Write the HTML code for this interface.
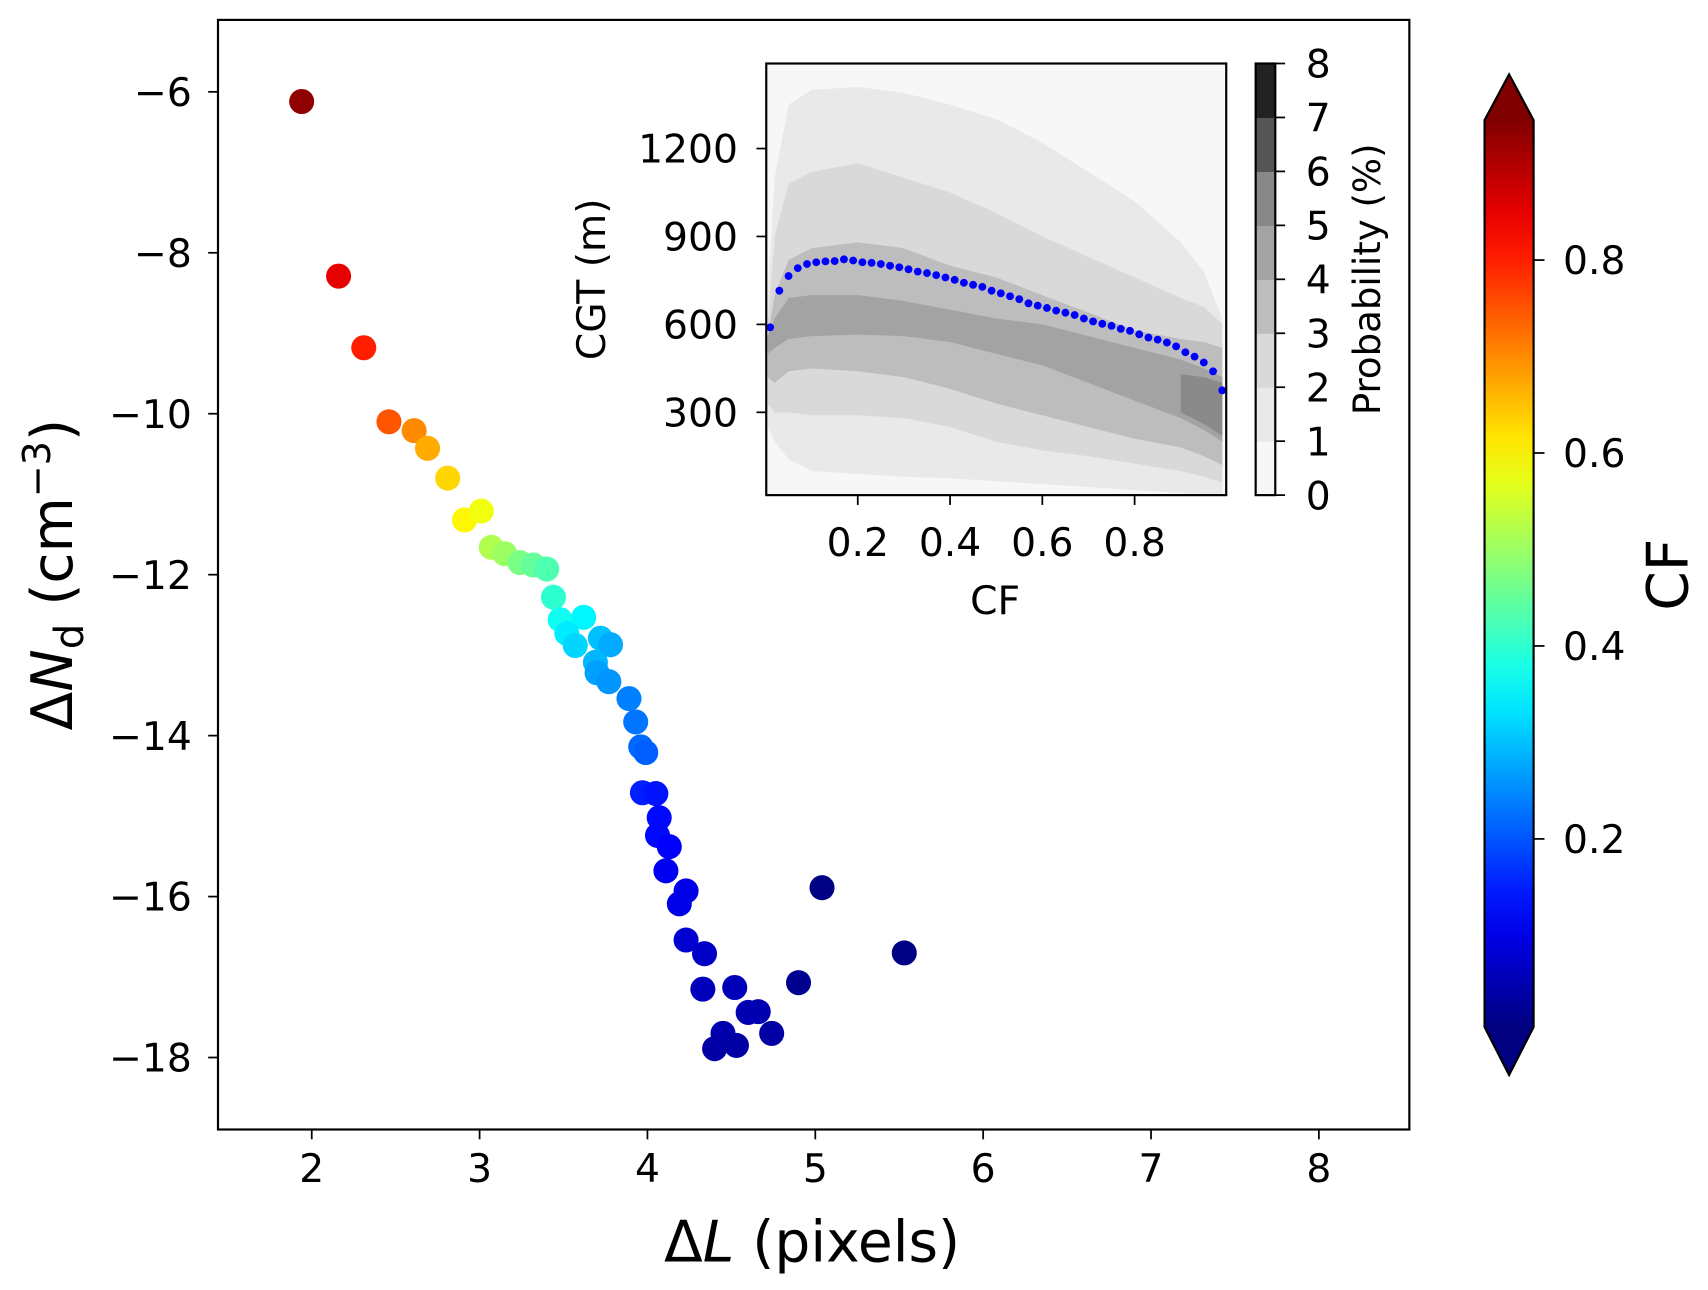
<!DOCTYPE html>
<html><head><meta charset="utf-8"><style>
html,body{margin:0;padding:0;background:#fff;}
svg{display:block;font-family:"DejaVu Sans","Liberation Sans",sans-serif;}
</style></head><body>
<svg id="fig" width="1708" height="1290" viewBox="0 0 1567 1183" xmlns="http://www.w3.org/2000/svg">
<defs>
<linearGradient id="jetgrad" x1="0" y1="1" x2="0" y2="0"></linearGradient>
<clipPath id="insetclip"><rect x="703" y="58" width="422" height="396"/></clipPath>
</defs>
<rect x="0" y="0" width="1567" height="1183" fill="#fff"/>
<g id="main"></g>
<g id="inset"></g>
<g id="cbar"></g>
</svg>
<script>
// ---- main scatter data ----
const dL = [1.94,2.16,2.31,2.46,2.61,2.69,2.81,2.91,3.01,3.07,3.15,3.24,3.32,3.40,3.44,3.62,3.48,3.52,3.57,3.72,3.78,3.69,3.70,3.77,3.89,3.93,3.96,3.99,3.97,4.05,4.07,4.06,4.13,4.11,4.23,4.19,4.23,4.34,4.33,4.52,4.60,4.66,4.74,4.45,4.40,4.53,4.90,5.04,5.53];
const dNd = [-6.12,-8.29,-9.18,-10.1,-10.21,-10.43,-10.8,-11.32,-11.21,-11.66,-11.74,-11.85,-11.88,-11.93,-12.28,-12.53,-12.56,-12.73,-12.88,-12.79,-12.87,-13.09,-13.22,-13.33,-13.54,-13.83,-14.14,-14.21,-14.71,-14.72,-15.02,-15.24,-15.38,-15.68,-15.93,-16.09,-16.54,-16.71,-17.15,-17.13,-17.44,-17.43,-17.70,-17.70,-17.89,-17.85,-17.07,-15.89,-16.70];
const cfVals = [0.93,0.85,0.8,0.75,0.7,0.67,0.63,0.6,0.58,0.52,0.5,0.47,0.45,0.43,0.4,0.35,0.37,0.34,0.32,0.3,0.28,0.29,0.27,0.26,0.24,0.23,0.22,0.21,0.15,0.14,0.13,0.13,0.12,0.11,0.1,0.1,0.08,0.07,0.06,0.06,0.05,0.05,0.04,0.05,0.04,0.04,0.02,0.01,0.01];
const xTicks = [2,3,4,5,6,7,8];
const yTicks = [-6,-8,-10,-12,-14,-16,-18];
const cbTicks = [0.2,0.4,0.6,0.8];
// ---- inset data ----
const insetCF = [0.01,0.03,0.05,0.07,0.09,0.11,0.13,0.15,0.17,0.19,0.21,0.23,0.25,0.27,0.29,0.31,0.33,0.35,0.37,0.39,0.41,0.43,0.45,0.47,0.49,0.51,0.53,0.55,0.57,0.59,0.61,0.63,0.65,0.67,0.69,0.71,0.73,0.75,0.77,0.79,0.81,0.83,0.85,0.87,0.89,0.91,0.93,0.95,0.97,0.99];
const insetCGT = [590,715,765,792,806,812,815,816,822,818,812,810,806,800,795,788,780,775,768,760,752,742,735,728,715,706,696,686,672,664,656,647,640,632,620,610,602,595,585,578,566,555,548,538,525,505,490,470,440,375];
const bandCF = [0.005,0.02,0.05,0.1,0.2,0.3,0.4,0.5,0.6,0.7,0.8,0.9,0.95,0.99];
const band1Up = [700,1100,1350,1400,1410,1390,1350,1300,1220,1120,1020,880,780,620];
const band1Lo = [250,200,140,100,90,80,75,65,55,45,35,25,20,15];
const band2Up = [600,900,1080,1120,1150,1100,1050,980,900,830,760,690,660,600];
const band2Lo = [330,300,300,290,290,280,250,200,170,150,125,100,80,60];
const band3Up = [560,700,820,860,880,860,800,760,700,640,580,550,540,520];
const band3Lo = [420,400,440,450,440,420,380,330,290,250,210,180,150,120];
const band4Up = [560,620,690,700,700,680,650,620,600,560,520,480,450,420];
const band4Lo = [500,520,550,560,565,560,540,500,460,400,340,280,240,200];
const band5Up = [0,0,0,0,0,0,0,0,0,0,0,430,420,400];
const band5Lo = [0,0,0,0,0,0,0,0,0,0,0,300,260,220];
const probTicks = [0,1,2,3,4,5,6,7,8];
const inXTicks = [0.2,0.4,0.6,0.8];
const inYTicks = [300,600,900,1200];

const NS="http://www.w3.org/2000/svg";
function mk(parent,tag,attrs,text){const e=document.createElementNS(NS,tag);for(const k in attrs)e.setAttribute(k,attrs[k]);if(text!==undefined)e.textContent=text;parent.appendChild(e);return e;}
function jet(v){v=Math.max(0,Math.min(1,v));
 const r=Math.max(0,Math.min(1,1.5-Math.abs(4*v-3)));
 const g=Math.max(0,Math.min(1,1.5-Math.abs(4*v-2)));
 const b=Math.max(0,Math.min(1,1.5-Math.abs(4*v-1)));
 return `rgb(${Math.round(r*255)},${Math.round(g*255)},${Math.round(b*255)})`;}
const vmin=0.005,vmax=0.945;
const FT=36;
// main axes
const L=200,R=1293,T=18,B=1036;
const sx=v=>286+(v-2)*154;
const sy=v=>84-(v+6)*73.83;
const main=document.getElementById('main');
for(let i=0;i<dL.length;i++){
 const c=mk(main,'circle',{cx:sx(dL[i]),cy:sy(dNd[i]),r:11.5,fill:jet((cfVals[i]-vmin)/(vmax-vmin))});
 
 
}
const frame=mk(main,'rect',{x:L,y:T,width:R-L,height:B-T,fill:'none',stroke:'#000','stroke-width':2});

xTicks.forEach(t=>{const x=sx(t);mk(main,'line',{x1:x,y1:B,x2:x,y2:B+9,stroke:'#000','stroke-width':1.6});
 const tx=mk(main,'text',{x:x,y:B+48,'font-size':FT,'text-anchor':'middle'},String(t));
 });
yTicks.forEach(t=>{const y=sy(t);mk(main,'line',{x1:L-9,y1:y,x2:L,y2:y,stroke:'#000','stroke-width':1.6});
 const tx=mk(main,'text',{x:L-24,y:y+13,'font-size':FT,'text-anchor':'end'},'\u2212'+Math.abs(t));
 });
const xl=mk(main,'text',{x:745,y:1157,'font-size':52,'text-anchor':'middle'});
xl.innerHTML='Δ<tspan font-style="italic">L</tspan> (pixels)';

const yl=mk(main,'text',{x:0,y:0,'font-size':52,'text-anchor':'middle',transform:'translate(66,527) rotate(-90)'});
yl.innerHTML='Δ<tspan font-style="italic">N</tspan><tspan font-size="37" dy="10">d</tspan><tspan dy="-10"> (cm</tspan><tspan font-size="35" dy="-20">−3</tspan><tspan dy="20">)</tspan>';


// inset
const inset=document.getElementById('inset');
const iL=703,iR=1125,iT=58,iB=454;
const ix=v=>702.3+v*423.3;
const iy=v=>458.7-v*0.2689;
const bg=mk(inset,'rect',{x:iL,y:iT,width:iR-iL,height:iB-iT,fill:'#f7f7f7'});

const bandsG=mk(inset,'g',{'clip-path':'url(#insetclip)'});
const bands=[[band1Up,band1Lo,'#e9e9e9'],[band2Up,band2Lo,'#d9d9d9'],[band3Up,band3Lo,'#bdbdbd'],[band4Up,band4Lo,'#a3a3a3'],[band5Up,band5Lo,'#8a8a8a']];
bands.forEach((b,k)=>{
 let pts=[];
 for(let i=0;i<bandCF.length;i++){if(b[0][i]>b[1][i])pts.push(ix(bandCF[i])+','+iy(b[0][i]));}
 for(let i=bandCF.length-1;i>=0;i--){if(b[0][i]>b[1][i])pts.push(ix(bandCF[i])+','+iy(b[1][i]));}
 const p=mk(bandsG,'polygon',{points:pts.join(' '),fill:b[2]});
 
 
});
for(let i=0;i<insetCF.length;i++){
 const c=mk(inset,'circle',{cx:ix(insetCF[i]),cy:iy(insetCGT[i]),r:3.6,fill:'#0000ff'});
 
 
}
const ifr=mk(inset,'rect',{x:iL,y:iT,width:iR-iL,height:iB-iT,fill:'none',stroke:'#000','stroke-width':2});

inXTicks.forEach(t=>{const x=ix(t);mk(inset,'line',{x1:x,y1:iB,x2:x,y2:iB+9,stroke:'#000','stroke-width':1.6});
 const tx=mk(inset,'text',{x:x,y:iB+56,'font-size':FT,'text-anchor':'middle'},t.toFixed(1));
 });
inYTicks.forEach(t=>{const y=iy(t);mk(inset,'line',{x1:iL-9,y1:y,x2:iL,y2:y,stroke:'#000','stroke-width':1.6});
 const tx=mk(inset,'text',{x:iL-26,y:y+13,'font-size':FT,'text-anchor':'end'},String(t));
 });
const ixl=mk(inset,'text',{x:913,y:563,'font-size':FT,'text-anchor':'middle'},'CF');

const iyl=mk(inset,'text',{x:0,y:0,'font-size':FT,'text-anchor':'middle',transform:'translate(555,256) rotate(-90)'},'CGT (m)');

// inset colorbar
const greys=['#f7f7f7','#e9e9e9','#d9d9d9','#bdbdbd','#a3a3a3','#888888','#555555','#222222'];
const pcX=1152,pcW=18,pcT=58,pcB=454,pcH=(pcB-pcT)/8;
greys.forEach((g,i)=>{const r=mk(inset,'rect',{x:pcX,y:pcB-(i+1)*pcH,width:pcW,height:pcH+0.5,fill:g});
 });
mk(inset,'rect',{x:pcX,y:pcT,width:pcW,height:pcB-pcT,fill:'none',stroke:'#000','stroke-width':2});
probTicks.forEach(t=>{const y=pcB-t*pcH;mk(inset,'line',{x1:pcX+pcW,y1:y,x2:pcX+pcW+9,y2:y,stroke:'#000','stroke-width':1.6});
 const tx=mk(inset,'text',{x:1198,y:y+13,'font-size':FT},String(t));
 });
const pl=mk(inset,'text',{x:0,y:0,'font-size':34,'text-anchor':'middle',transform:'translate(1266,256) rotate(-90)'},'Probability (%)');


// main colorbar
const grad=document.getElementById('jetgrad');
for(let i=0;i<=20;i++){mk(grad,'stop',{offset:(i/20),'stop-color':jet(i/20)});}
const cb=document.getElementById('cbar');
const cX=1362,cW=45,cT=110,cB=942;
const cbr=mk(cb,'rect',{x:cX,y:cT,width:cW,height:cB-cT,fill:'url(#jetgrad)'});

mk(cb,'polygon',{points:`${cX},${cT+0.5} ${cX+cW},${cT+0.5} ${cX+cW/2},68`,fill:jet(1)});
mk(cb,'polygon',{points:`${cX},${cB-0.5} ${cX+cW},${cB-0.5} ${cX+cW/2},986`,fill:jet(0)});
mk(cb,'polygon',{points:`${cX+cW/2},68 ${cX+cW},${cT} ${cX+cW},${cB} ${cX+cW/2},986 ${cX},${cB} ${cX},${cT}`,fill:'none',stroke:'#000','stroke-width':2});
const cy=v=>cB-(v-vmin)/(vmax-vmin)*(cB-cT);
cbTicks.forEach(t=>{const y=cy(t);mk(cb,'line',{x1:cX+cW,y1:y,x2:cX+cW+10,y2:y,stroke:'#000','stroke-width':1.6});
 const tx=mk(cb,'text',{x:1434,y:y+13,'font-size':FT},t.toFixed(1));
 });
const cl=mk(cb,'text',{x:0,y:0,'font-size':52,'text-anchor':'middle',transform:'translate(1548,527) rotate(-90)'},'CF');

</script>
</body></html>
